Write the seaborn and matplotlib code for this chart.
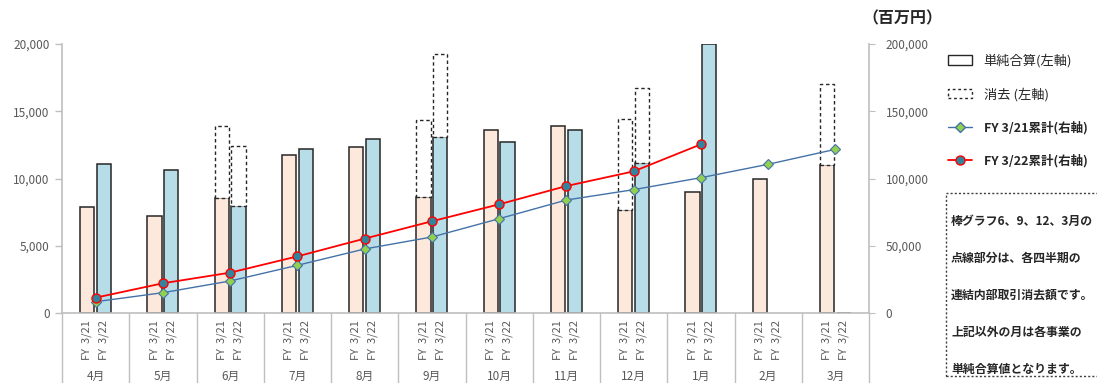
import numpy as np
import pandas as pd
import matplotlib
matplotlib.use("Agg")
import matplotlib.pyplot as plt
import matplotlib.transforms as mtransforms
from matplotlib.patches import Patch, Rectangle
from matplotlib.lines import Line2D
import seaborn as sns

# ---------------- data ----------------
months = ['4月', '5月', '6月', '7月', '8月', '9月', '10月', '11月', '12月', '1月', '2月', '3月']
fy_labels = ['FY  3/21', 'FY  3/22']
fy21_base = [7900, 7200, 8570, 11770, 12320, 8650, 13610, 13880, 7660, 9020, 9940, 11000]
fy22_base = [11060, 10660, 7980, 12170, 12910, 13060, 12690, 13610, 11130, 20000, np.nan, 0]
fy21_elim = [0, 0, 5330, 0, 0, 5680, 0, 0, 6740, 0, 0, 6030]
fy22_elim = [0, 0, 4440, 0, 0, 6200, 0, 0, 5570, 0, 0, 0]
cum21 = [8400, 15100, 23800, 35450, 47600, 56500, 70100, 84000, 91700, 100600, 110560, 121700]
cum22 = [11400, 22100, 30000, 42100, 55300, 68200, 80800, 94400, 105300, 125400, np.nan, np.nan]
left_ticks = [0, 5000, 10000, 15000, 20000]
right_ticks = [0, 50000, 100000, 150000, 200000]
legend_labels = ['単純合算(左軸)', '消去 (左軸)', 'FY 3/21累計(右軸)', 'FY 3/22累計(右軸)']
note_lines = ['棒グラフ6、9、12、3月の', '点線部分は、各四半期の', '連結内部取引消去額です。',
              '上記以外の月は各事業の', '単純合算値となります。']
unit_label = '（百万円）'

# ---------------- style ----------------
sns.set_style("white")
plt.rcParams['font.family'] = ['Noto Sans CJK JP', 'DejaVu Sans']

C21 = '#FCE9DC'
C22 = '#B7DDE8'
GREY = '#595959'
LGREY = '#BFBFBF'
BLUE = '#4472A8'
DARK = '#262626'

W, H = 1097, 383
fig = plt.figure(figsize=(W / 100, H / 100), dpi=100)
ax = fig.add_axes([62 / W, 1 - 313 / H, (869 - 62) / W, 269 / H])

df = pd.DataFrame({
    'month': months * 2,
    'fy': [fy_labels[0]] * 12 + [fy_labels[1]] * 12,
    'value': fy21_base + fy22_base,
})
sns.barplot(data=df, x='month', y='value', hue='fy', order=months, hue_order=fy_labels,
            palette=[C21, C22], width=0.5, gap=0.16, edgecolor=DARK, linewidth=1.1,
            errorbar=None, legend=False, ax=ax, saturation=1)

# dodge offsets taken from seaborn's own bars
offs = [p.get_x() + p.get_width() / 2 - round(p.get_x() + p.get_width() / 2) for p in ax.patches]
off_l = float(np.mean([o for o in offs if o < 0]))
off_r = float(np.mean([o for o in offs if o > 0]))
bw = ax.patches[0].get_width()
hue_off = [off_l, off_r]

# elimination (dashed) boxes stacked on top
for j, (base, elim) in enumerate([(fy21_base, fy21_elim), (fy22_base, fy22_elim)]):
    xs, hs, bs = [], [], []
    for i in range(len(months)):
        if elim[i] > 0:
            xs.append(i + hue_off[j]); hs.append(elim[i]); bs.append(base[i])
    ax.bar(xs, hs, bottom=bs, width=bw, facecolor='white', edgecolor=DARK,
           linestyle=(0, (2.5, 2)), linewidth=1.0)

ax.set_ylim(0, 20000)
ax.set_xlim(-0.5, len(months) - 0.5)
ax.set_yticks(left_ticks)
ax.set_yticklabels([f'{v:,}' for v in left_ticks], color=GREY, fontsize=8.5)
ax.tick_params(axis='y', length=5, color=LGREY, width=1, pad=4, left=True)
ax.set_xlabel('')
ax.set_ylabel('')

xt = [i + hue_off[j] for i in range(len(months)) for j in range(2)]
ax.set_xticks(xt)
ax.set_xticklabels([fy_labels[j] for i in range(len(months)) for j in range(2)],
                   rotation=90, fontsize=8, color=GREY)
ax.tick_params(axis='x', length=0, pad=5)

for s in ['top', 'right']:
    ax.spines[s].set_visible(False)
for s in ['left', 'bottom']:
    ax.spines[s].set_color(LGREY)
    ax.spines[s].set_linewidth(1.2)

trans = mtransforms.blended_transform_factory(ax.transData, ax.transAxes)
for k in range(len(months) + 1):
    ax.plot([k - 0.5, k - 0.5], [0, -0.3], transform=trans, color=LGREY, lw=1, clip_on=False)
for i, m in enumerate(months):
    ax.text(i, -(376 - 313) / 269, m, transform=trans, ha='center', va='center', fontsize=8.5,
            color=GREY)

# cumulative lines on right axis
ax2 = ax.twinx()
idx = np.arange(len(months))
sns.lineplot(x=idx, y=cum21, ax=ax2, color=BLUE, linewidth=1.0, marker='D', markersize=5,
             markerfacecolor='#92D050', markeredgecolor=BLUE, markeredgewidth=0.8)
sns.lineplot(x=idx, y=cum22, ax=ax2, color='#FF0000', linewidth=1.3, marker='o', markersize=6.5,
             markerfacecolor='#31849B', markeredgecolor='#FF0000', markeredgewidth=1.0)
ax2.set_ylim(0, 200000)
ax2.set_yticks(right_ticks)
ax2.set_yticklabels([f'{v:,}' for v in right_ticks], color=GREY, fontsize=8.5)
ax2.tick_params(axis='y', length=4, color=LGREY, pad=8)
ax2.set_ylabel('')
ax2.set_xlim(-0.5, len(months) - 0.5)
for s in ['top', 'left', 'bottom']:
    ax2.spines[s].set_visible(False)
ax2.spines['right'].set_color(LGREY)
ax2.spines['right'].set_linewidth(1.2)

fig.text(862 / W, 1 - 18 / H, unit_label, fontsize=11.5, fontweight='bold', color=DARK,
         va='center', ha='left')

# legend
handles = [
    Patch(facecolor='white', edgecolor=DARK, linewidth=1.0),
    Patch(facecolor='white', edgecolor=DARK, linewidth=1.0, linestyle=(0, (2, 2))),
    Line2D([], [], color=BLUE, lw=1, marker='D', markersize=5, markerfacecolor='#92D050',
           markeredgecolor=BLUE),
    Line2D([], [], color='#FF0000', lw=1.3, marker='o', markersize=6.5, markerfacecolor='#31849B',
           markeredgecolor='#FF0000'),
]
leg = fig.legend(handles, legend_labels, loc='upper left', bbox_to_anchor=(936 / W, 1 - 42 / H),
                 frameon=False, labelspacing=1.5, handlelength=1.8, handletextpad=0.9,
                 fontsize=9.5)
for k, t in enumerate(leg.get_texts()):
    t.set_color(DARK)
    if k >= 2:
        t.set_fontweight('bold')
        t.set_fontsize(9)

# note box
fig.patches.append(Rectangle((946 / W, 1 - 376 / H), (W + 10 - 946) / W, (376 - 193) / H,
                             transform=fig.transFigure, fill=False, edgecolor='#404040',
                             linestyle=(0, (1.5, 1.5)), linewidth=1.0))
for k, line in enumerate(note_lines):
    fig.text(951 / W, 1 - (221 + 37 * k) / H, line, fontsize=8.6, fontweight='bold',
             color=DARK, va='center', ha='left')

fig.savefig('out.png', dpi=100)
